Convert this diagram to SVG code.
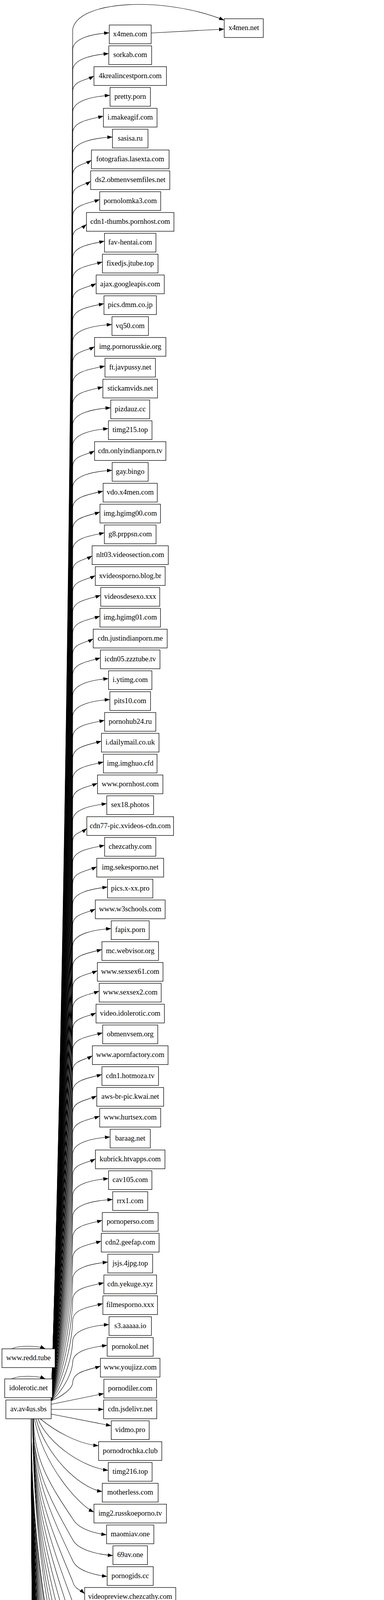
<svg xmlns="http://www.w3.org/2000/svg" width="983" height="7090" viewBox="0 0 983 7090">
<style>
.nd rect{fill:#ffffff;stroke:#000000;stroke-width:1.3}
.nd text{font-family:"Liberation Serif","Times New Roman",serif;font-size:18.67px;text-anchor:middle;fill:#000000}
#edges path{fill:none;stroke:#000000;stroke-width:1.1;marker-end:url(#ah)}
</style>
<defs>
<marker id="ah" markerWidth="13.3" markerHeight="9.4" refX="13.3" refY="4.7" orient="auto" markerUnits="userSpaceOnUse" viewBox="0 0 13.3 9.4"><path d="M0,0 L13.3,4.7 L0,9.4 z" fill="#000000"/></marker>
</defs>
<rect x="0" y="0" width="983" height="7090" fill="#ffffff"/>
<g id="edges">
<path d="M131,3586C160,2708.3 184,1128.3 186,75C200,0 420,-10 574,51.7"/>
<path d="M387,84.5L574,74.5"/>
<path d="M131,3586C160,2721.5 184,1165.4 186,128c0,-30.8 51.6,-41.1 93.7,-44"/>
<path d="M131,3586C160,2734.8 184,1202.7 186,181.3c0,-30.8 51.6,-41.1 92.5,-44"/>
<path d="M131,3586C160,2748.2 184,1240.1 186,234.7c0,-27.9 32.6,-28.2 54.5,-40"/>
<path d="M131,3586C160,2761.5 184,1277.4 186,288c0,-30.8 51.6,-41.1 95.6,-44"/>
<path d="M131,3586C160,2774.8 184,1314.7 186,341.3c0,-30.8 44.1,-35.9 78.7,-44"/>
<path d="M131,3586C160,2788.2 184,1352.1 186,394.7c0,-30.8 55.1,-41.7 101.9,-44"/>
<path d="M131,3586C160,2801.5 184,1389.4 186,448c0,-26.3 29.2,-26 48,-37.8"/>
<path d="M131,3586C160,2814.8 184,1426.7 186,501.3c0,-26.3 29.2,-26 46.1,-37.2"/>
<path d="M131,3586C160,2828.2 184,1464.1 186,554.7c0,-30.8 40.1,-34 69.3,-44"/>
<path d="M131,3586C160,2841.5 184,1501.4 186,608c0,-23.5 23,-23.4 35.4,-33.7"/>
<path d="M131,3586C160,2854.8 184,1538.7 186,661.3c0,-30.8 45.5,-36.7 81.5,-44"/>
<path d="M131,3586C160,2868.2 184,1576.1 186,714.7c0,-30.8 42.5,-35 76.2,-44"/>
<path d="M131,3586C160,2881.5 184,1613.4 186,768c0,-29.5 36,-30.8 60.2,-41.9"/>
<path d="M131,3586C160,2894.8 184,1650.7 186,821.3c0,-30.8 45.5,-36.7 80.2,-44"/>
<path d="M131,3586C160,2908.2 184,1688.1 186,874.7c0,-30.8 55.1,-41.7 100.6,-44"/>
<path d="M131,3586C160,2921.5 184,1725.4 186,928c0,-28.6 34.1,-29.3 56.1,-40.5"/>
<path d="M131,3586C160,2934.8 184,1762.7 186,981.3c0,-30.8 45.5,-36.7 82.7,-44"/>
<path d="M131,3586C160,2948.2 184,1800.1 186,1034.7c0,-30.8 44.1,-35.9 77.4,-44"/>
<path d="M131,3586C160,2961.5 184,1837.4 186,1088c0,-30.8 55.1,-41.7 97.5,-44"/>
<path d="M131,3586C160,2974.8 184,1874.7 186,1141.3c0,-30.8 51.6,-41.1 91.5,-44"/>
<path d="M131,3586C160,2988.2 184,1912.1 186,1194.7c0,-28.6 34.1,-29.3 56.1,-40.5"/>
<path d="M131,3586C160,3001.5 184,1949.4 186,1248c0,-30.8 55.1,-41.7 101.2,-44"/>
<path d="M131,3586C160,3014.8 184,1986.7 186,1301.3c0,-30.8 44.1,-35.9 78,-44"/>
<path d="M131,3586C160,3028.2 184,2024.1 186,1354.7c0,-30.8 40.1,-34 69.9,-44"/>
<path d="M131,3586C160,3041.5 184,2061.4 186,1408c0,-30.8 45.5,-36.7 81.2,-44"/>
<path d="M131,3586C160,3054.8 184,2098.7 186,1461.3c0,-27 30.7,-26.9 49.8,-38.4"/>
<path d="M131,3586C160,3068.2 184,2136.1 186,1514.7c0,-28.6 34.1,-29.3 58,-41.1"/>
<path d="M131,3586C160,3081.5 184,2173.4 186,1568c0,-30.8 40.1,-34 71.8,-44"/>
<path d="M131,3586C160,3094.8 184,2210.7 186,1621.3c0,-30.8 40.1,-34 69.9,-44"/>
<path d="M131,3586C160,3108.2 184,2248.1 186,1674.7c0,-27.9 32.6,-28.2 52.6,-39.4"/>
<path d="M131,3586C160,3121.5 184,2285.4 186,1728c0,-30.8 40.1,-34 71.1,-44"/>
<path d="M131,3586C160,3134.8 184,2322.7 186,1781.3c0,-30.8 51.6,-41.1 91.8,-44"/>
<path d="M131,3586C160,3148.2 184,2360.1 186,1834.7c0,-30.8 51.6,-41.1 95.3,-44"/>
<path d="M131,3586C160,3161.5 184,2397.4 186,1888c0,-30.8 45.5,-36.7 81.8,-44"/>
<path d="M131,3586C160,3174.8 184,2434.7 186,1941.3c0,-30.8 42.5,-35 73.7,-44"/>
<path d="M131,3586C160,3188.2 184,2472.1 186,1994.7c0,-30.8 44.1,-35.9 78.7,-44"/>
<path d="M131,3586C160,3201.5 184,2509.4 186,2048c0,-30.1 37.1,-32 63.6,-43"/>
<path d="M131,3586C160,3214.8 184,2546.7 186,2101.3c0,-30.8 49.3,-39.3 87.4,-44"/>
<path d="M131,3586C160,3228.2 184,2584.1 186,2154.7c0,-23.5 23,-23.4 36.3,-34"/>
<path d="M131,3586C160,3241.5 184,2621.4 186,2208c0,-30.8 45.5,-36.7 81.8,-44"/>
<path d="M131,3586C160,3254.8 184,2658.7 186,2261.3c0,-29.5 36,-30.8 61.7,-42.4"/>
<path d="M131,3586C160,3268.2 184,2696.1 186,2314.7c0,-30.8 49.3,-39.3 89.3,-44"/>
<path d="M131,3586C160,3281.5 184,2733.4 186,2368c0,-28.6 34.1,-29.3 58,-41.1"/>
<path d="M131,3586C160,3294.8 184,2770.7 186,2421.3c0,-30.8 55.1,-41.7 98.7,-44"/>
<path d="M131,3586C160,3308.2 184,2808.1 186,2474.7c0,-30.8 42.5,-35 74.9,-44"/>
<path d="M131,3586C160,3321.5 184,2845.4 186,2528c0,-30.1 37.1,-32 63.3,-42.9"/>
<path d="M131,3586C160,3334.8 184,2882.7 186,2581.3c0,-30.8 40.1,-34 68,-44"/>
<path d="M131,3586C160,3348.2 184,2920.1 186,2634.7c0,-29.5 36,-30.8 59.8,-41.7"/>
<path d="M131,3586C160,3361.5 184,2957.4 186,2688c0,-30.8 42.5,-35 76.8,-44"/>
<path d="M131,3586C160,3374.8 184,2994.7 186,2741.3c0,-27 30.7,-26.9 50.5,-38.7"/>
<path d="M131,3586C160,3388.2 184,3032.1 186,2794.7c0,-30.8 42.5,-35 74.9,-44"/>
<path d="M131,3586C160,3401.5 184,3069.4 186,2848c0,-29.5 36,-30.8 61.7,-42.4"/>
<path d="M131,3586C160,3414.8 184,3106.7 186,2901.3c0,-30.8 40.1,-34 69.3,-44"/>
<path d="M131,3586C160,3428.2 184,3144.1 186,2954.7c0,-30.8 51.6,-41.1 95.9,-44"/>
<path d="M131,3586C160,3441.5 184,3181.4 186,3008c0,-28.6 34.1,-29.3 58.3,-41.2"/>
<path d="M131,3586C160,3454.8 184,3218.7 186,3061.3c0,-30.8 51.6,-41.1 91.8,-44"/>
<path d="M131,3586C160,3468.2 184,3256.1 186,3114.7c0,-30.8 55.1,-41.7 102.5,-44"/>
<path d="M131,3586C160,3481.5 184,3293.4 186,3168c0,-30.8 42.5,-35 75.8,-44"/>
<path d="M131,3586C160,3494.8 184,3330.7 186,3221.3c0,-30.8 42.5,-35 73.3,-44"/>
<path d="M131,3586C160,3508.2 184,3368.1 186,3274.7c0,-30.8 49.3,-39.3 90,-44"/>
<path d="M131,3586C160,3521.5 184,3405.4 186,3328c0,-30.8 44.1,-35.9 79.9,-44"/>
<path d="M131,3586C160,3534.8 184,3442.7 186,3381.3c0,-30.8 44.1,-35.9 77.4,-44"/>
<path d="M131,3586C160,3548.2 184,3480.1 186,3434.7c0,-30.8 51.6,-41.1 93.1,-44"/>
<path d="M131,3586C160,3561.5 184,3517.4 186,3488c0,-30.8 49.3,-39.3 88.4,-44"/>
<path d="M131,3586C160,3574.8 184,3554.7 186,3541.3c0,-30.8 40.1,-34 71.1,-44"/>
<path d="M131,3595L265.9,3567.5"/>
<path d="M131,3608L265.3,3608"/>
<path d="M131,3620L284.7,3650"/>
<path d="M103,3632C140,3663 200,3697 252.4,3701"/>
<path d="M97,3632C124,3698 214,3757 277.2,3764"/>
<path d="M92,3632C117.5,3725 202.3,3809.2 261.8,3818.5"/>
<path d="M88,3632C111,3751.5 200,3852 240.5,3871"/>
<path d="M86,3632C86,3734.4 126,3798.4 186,3888c14,24.6 49.7,36.7 86.8,41"/>
<path d="M84,3632C84,3755.7 124.8,3833 186,3941.3c12,24.6 55.5,37.1 103.1,41"/>
<path d="M85,3632C85,3777.1 125.4,3867.8 186,3994.7c10,24.6 49.7,36.7 88.4,41"/>
<path d="M84,3632C84,3798.4 124.8,3902.4 186,4048c4,19.1 20.4,22.6 30.7,31.8"/>
<path d="M84,3632C84,3819.7 124.8,3937.1 186,4101.3c4,24.6 44.1,33.1 77.4,41"/>
<path d="M84,3632C84,3841.1 124.8,3971.7 186,4154.7c4,24.6 49.7,36.7 87.4,41"/>
<path d="M84,3632C84,3862.4 124.8,4006.4 186,4208c4,24.6 55.5,37.1 100.6,41"/>
<path d="M84,3632C84,3883.7 124.8,4041.1 186,4261.3c4,24.6 41.7,31.9 73.3,41"/>
<path d="M84,3632C84,3905.1 124.8,4075.7 186,4314.7c4,18.4 18.9,22 28.2,30.7"/>
<path d="M84,3632C84,3926.4 124.8,4110.4 186,4368c4,24.6 46.2,34.4 81.2,41"/>
<path d="M84,3632C84,3947.7 124.8,4145.1 186,4421.3c4,24.6 44.1,33.1 78.4,41"/>
<path d="M80,3632C80,3965.2 122.4,4173.5 186,4465C187,4488 205,4499 260,4501C360,4503 480,4499 566,4497"/>
<path d="M80,3632C80,3974.4 122.4,4188.4 186,4488c4,24.6 49.7,36.7 90,41"/>
<path d="M80,3632C80,3995.7 122.4,4223.1 186,4541.3c4,24.6 49.7,36.7 91.2,41"/>
<path d="M80,3632C80,4017.1 122.4,4257.7 186,4594.7c4,24.6 31,29.7 52,41"/>
<path d="M80,3632C80,4038.4 122.4,4292.4 186,4648c4,24.6 33.9,29.8 58.3,41"/>
<path d="M80,3632C80,4059.7 122.4,4327.1 186,4701.3c4,24.6 46.2,34.4 85.6,41"/>
<path d="M80,3632C80,4081.1 122.4,4361.7 186,4754.7c4,24.6 49.7,36.7 90.6,41"/>
<path d="M80,3632C80,4102.4 122.4,4396.4 186,4808c4,24.6 38.4,30.7 67.4,41"/>
<path d="M80,3632C80,4123.7 122.4,4431.1 186,4861.3c4,24.6 33.9,29.8 58.3,41"/>
<path d="M80,3632C80,4145.1 122.4,4465.7 186,4914.7c4,19.6 21.4,23.2 32.6,32.7"/>
<path d="M80,3632C80,4166.4 122.4,4500.4 186,4968c1,11.7 2.5,18.2 3.4,19.5"/>
<path d="M80,3632C80,4187.7 122.4,4535.1 186,5021.3c4,24.6 38.4,30.7 66.1,41"/>
<path d="M80,3632C80,4209.1 122.4,4569.7 186,5074.7c4,24.6 40.3,31.4 69.9,41"/>
<path d="M80,3632C80,4230.4 122.4,4604.4 186,5128c4,22.1 26.3,26 41.7,36.8"/>
<path d="M80,3632C80,4251.7 122.4,4639.1 186,5181.3c4,24.6 44.1,33.1 78.7,41"/>
<path d="M80,3632C80,4273.1 122.4,4673.7 186,5234.7c4,24.6 44.1,33.1 77.4,41"/>
<path d="M80,3632C80,4294.4 122.4,4708.4 186,5288c4,24.6 33.9,29.8 56.1,41"/>
<path d="M80,3632C80,4315.7 122.4,4743.1 186,5341.3c4,24.6 52.2,37.3 93.1,41"/>
<path d="M80,3632C80,4337.1 122.4,4777.7 186,5394.7c4,24.6 52.2,37.3 95.3,41"/>
<path d="M80,3632C80,4358.4 122.4,4812.4 186,5448c4,24.6 36.5,30.2 61.7,41"/>
<path d="M80,3632C80,4379.7 122.4,4847.1 186,5501.3c4,24.6 46.2,34.4 80.5,41"/>
<path d="M80,3632C80,4401.1 122.4,4881.7 186,5554.7c4,24.6 36.5,30.2 63.6,41"/>
<path d="M80,3632C80,4422.4 122.4,4916.4 186,5608c4,24.6 31,29.7 51.7,41"/>
<path d="M80,3632C80,4443.7 122.4,4951.1 186,5661.3c4,24.6 38.4,30.7 66.8,41"/>
<path d="M80,3632C80,4465.1 122.4,4985.7 186,5714.7c4,24.6 41.7,31.9 73.7,41"/>
<path d="M80,3632C80,4486.4 122.4,5020.4 186,5768c4,24.6 55.5,37.1 103.1,41"/>
<path d="M80,3632C80,4507.7 122.4,5055.1 186,5821.3c4,24.6 52.2,37.3 95.6,41"/>
<path d="M80,3632C80,4529.1 122.4,5089.7 186,5874.7c4,24.6 55.5,37.1 97.8,41"/>
<path d="M80,3632C80,4550.4 122.4,5124.4 186,5928c4,24.6 40.3,31.4 71.8,41"/>
<path d="M80,3632C80,4571.7 122.4,5159.1 186,5981.3c4,24.6 40.3,31.4 69.3,41"/>
<path d="M80,3632C80,4593.1 122.4,5193.7 186,6034.7c4,24.6 36.5,30.2 63.3,41"/>
<path d="M80,3632C80,4614.4 122.4,5228.4 186,6088c4,24.6 40.3,31.4 70.5,41"/>
<path d="M80,3632C80,4629.2 122.4,5252.5 186,6125C187,6148 210,6162 280,6164C380,6167 450,6165 476.5,6152C600,6060 850,5650 868,5352"/>
<path d="M80,3632C80,4641.1 122.4,5271.8 186,6154.7c4,24.6 52.2,37.3 93.1,41"/>
<path d="M80,3632C80,4655.2 122.4,5294.7 186,6190C187,6213 210,6226 280,6229C420,6233 520,6238 574,6273"/>
<path d="M80,3632C80,4667.7 122.4,5315 186,6221.3c4,24.6 44.1,33.1 79.3,41"/>
<path d="M80,3632C80,4689.1 122.4,5349.7 186,6274.7c4,24.6 46.2,34.4 84.9,41"/>
<path d="M80,3632C80,4710.4 122.4,5384.4 186,6328c4,24.6 41.7,31.9 73.7,41"/>
<path d="M80,3632C80,4731.7 122.4,5419.1 186,6381.3c4,24.6 40.3,31.4 71.1,41"/>
<path d="M80,3632C80,4753.1 122.4,5453.7 186,6434.7c4,24.6 38.4,30.7 65.8,41"/>
<path d="M80,3632C80,4774.4 122.4,5488.4 186,6488c4,24.6 36.5,30.2 61.4,41"/>
<path d="M80,3632C80,4795.7 122.4,5523.1 186,6541.3c4,24.6 46.2,34.4 83.1,41"/>
<path d="M80,3632C80,4817.1 122.4,5557.7 186,6594.7c4,24.6 46.2,34.4 81.2,41"/>
<path d="M80,3632C80,4838.4 122.4,5592.4 186,6648c4,24.6 44.1,33.1 79.9,41"/>
<path d="M80,3632C80,4859.7 122.4,5627.1 186,6701.3c4,24.6 46.2,34.4 83.7,41"/>
<path d="M80,3632C80,4881.1 122.4,5661.7 186,6754.7c4,24.6 49.7,36.7 90,41"/>
<path d="M80,3632C80,4902.4 122.4,5696.4 186,6808c4,24.6 55.5,37.1 100.6,41"/>
<path d="M80,3632C80,4923.7 122.4,5731.1 186,6861.3c4,24.6 31,29.7 49.8,40.4"/>
<path d="M80,3632C80,4945.1 122.4,5765.7 186,6914.7c4,24.6 52.2,37.3 95.3,41"/>
<path d="M80,3632C80,4966.4 122.4,5800.4 186,6968c4,24.6 40.3,31.4 69.9,41"/>
<path d="M80,3632C80,4987.7 122.4,5835.1 186,7021.3c4,24.6 46.2,34.4 84.9,41"/>
<path d="M380,4248C480,4255 580,4350 611,4470"/>
<path d="M632,4518L865,5304"/>
<path d="M407,6353C440,6346 500,6333 546,6321"/>
<path d="M419.2,6528L525,6528"/>
<path d="M722,6528L770,6528"/>
<path d="M30,3453C48,3444 95,3444 116,3453"/>
<path d="M30,3530C48,3521 95,3521 116,3530"/>
</g>
<g id="nodes">
<g id="n_www.redd.tube" class="nd"><rect x="5" y="3453" width="136" height="48"/><text x="73" y="3482">www.redd.tube</text></g>
<g id="n_idolerotic.net" class="nd"><rect x="12" y="3530" width="122" height="48"/><text x="73" y="3559">idolerotic.net</text></g>
<g id="n_av.av4us.sbs" class="nd"><rect x="15" y="3584" width="116" height="48"/><text x="73" y="3613">av.av4us.sbs</text></g>
<g id="n_x4men.net" class="nd"><rect x="574" y="48" width="100" height="48"/><text x="624" y="77">x4men.net</text></g>
<g id="n_ru.uzbum.su" class="nd"><rect x="566" y="4470" width="115.5" height="48"/><text x="623.8" y="4499">ru.uzbum.su</text></g>
<g id="n_uzbum.cc" class="nd"><rect x="827.5" y="5304" width="92.5" height="48"/><text x="873.8" y="5333">uzbum.cc</text></g>
<g id="n_pornolomka2.com" class="nd"><rect x="546" y="6273" width="155.5" height="48"/><text x="623.8" y="6302">pornolomka2.com</text></g>
<g id="n_ds.nashobmenfiles.com" class="nd"><rect x="525" y="6504" width="197" height="48"/><text x="623.5" y="6533">ds.nashobmenfiles.com</text></g>
<g id="n_ds2.nashobmenfiles.com" class="nd"><rect x="770" y="6504" width="207" height="48"/><text x="873.5" y="6533">ds2.nashobmenfiles.com</text></g>
<g id="n_x4men.com" class="nd"><rect x="279.7" y="64" width="107.3" height="48"/><text x="333.3" y="93">x4men.com</text></g>
<g id="n_sorkab.com" class="nd"><rect x="278.5" y="117.3" width="109.7" height="48"/><text x="333.3" y="146.3">sorkab.com</text></g>
<g id="n_4krealincestporn.com" class="nd"><rect x="240.5" y="170.7" width="185.6" height="48"/><text x="333.3" y="199.7">4krealincestporn.com</text></g>
<g id="n_pretty.porn" class="nd"><rect x="281.6" y="224" width="103.5" height="48"/><text x="333.3" y="253">pretty.porn</text></g>
<g id="n_i.makeagif.com" class="nd"><rect x="264.7" y="277.3" width="137.3" height="48"/><text x="333.3" y="306.3">i.makeagif.com</text></g>
<g id="n_sasisa.ru" class="nd"><rect x="287.9" y="330.7" width="90.9" height="48"/><text x="333.3" y="359.7">sasisa.ru</text></g>
<g id="n_fotografias.lasexta.com" class="nd"><rect x="234" y="384" width="198.7" height="48"/><text x="333.3" y="413">fotografias.lasexta.com</text></g>
<g id="n_ds2.obmenvsemfiles.net" class="nd"><rect x="232.1" y="437.3" width="202.5" height="48"/><text x="333.3" y="466.3">ds2.obmenvsemfiles.net</text></g>
<g id="n_pornolomka3.com" class="nd"><rect x="255.3" y="490.7" width="156.1" height="48"/><text x="333.3" y="519.7">pornolomka3.com</text></g>
<g id="n_cdn1-thumbs.pornhost.com" class="nd"><rect x="221.4" y="544" width="223.9" height="48"/><text x="333.3" y="573">cdn1-thumbs.pornhost.com</text></g>
<g id="n_fav-hentai.com" class="nd"><rect x="267.5" y="597.3" width="131.7" height="48"/><text x="333.3" y="626.3">fav-hentai.com</text></g>
<g id="n_fixedjs.jtube.top" class="nd"><rect x="262.2" y="650.7" width="142.3" height="48"/><text x="333.3" y="679.7">fixedjs.jtube.top</text></g>
<g id="n_ajax.googleapis.com" class="nd"><rect x="246.2" y="704" width="174.3" height="48"/><text x="333.3" y="733">ajax.googleapis.com</text></g>
<g id="n_pics.dmm.co.jp" class="nd"><rect x="266.2" y="757.3" width="134.2" height="48"/><text x="333.3" y="786.3">pics.dmm.co.jp</text></g>
<g id="n_vq50.com" class="nd"><rect x="286.6" y="810.7" width="93.4" height="48"/><text x="333.3" y="839.7">vq50.com</text></g>
<g id="n_img.pornorusskie.org" class="nd"><rect x="242.1" y="864" width="182.5" height="48"/><text x="333.3" y="893">img.pornorusskie.org</text></g>
<g id="n_ft.javpussy.net" class="nd"><rect x="268.7" y="917.3" width="129.2" height="48"/><text x="333.3" y="946.3">ft.javpussy.net</text></g>
<g id="n_stickamvids.net" class="nd"><rect x="263.4" y="970.7" width="139.8" height="48"/><text x="333.3" y="999.7">stickamvids.net</text></g>
<g id="n_pizdauz.cc" class="nd"><rect x="283.5" y="1024" width="99.7" height="48"/><text x="333.3" y="1053">pizdauz.cc</text></g>
<g id="n_timg215.top" class="nd"><rect x="277.5" y="1077.3" width="111.6" height="48"/><text x="333.3" y="1106.3">timg215.top</text></g>
<g id="n_cdn.onlyindianporn.tv" class="nd"><rect x="242.1" y="1130.7" width="182.5" height="48"/><text x="333.3" y="1159.7">cdn.onlyindianporn.tv</text></g>
<g id="n_gay.bingo" class="nd"><rect x="287.2" y="1184" width="92.2" height="48"/><text x="333.3" y="1213">gay.bingo</text></g>
<g id="n_vdo.x4men.com" class="nd"><rect x="264" y="1237.3" width="138.6" height="48"/><text x="333.3" y="1266.3">vdo.x4men.com</text></g>
<g id="n_img.hgimg00.com" class="nd"><rect x="255.9" y="1290.7" width="154.9" height="48"/><text x="333.3" y="1319.7">img.hgimg00.com</text></g>
<g id="n_g8.prppsn.com" class="nd"><rect x="267.2" y="1344" width="132.3" height="48"/><text x="333.3" y="1373">g8.prppsn.com</text></g>
<g id="n_nlt03.videosection.com" class="nd"><rect x="235.8" y="1397.3" width="195" height="48"/><text x="333.3" y="1426.3">nlt03.videosection.com</text></g>
<g id="n_xvideosporno.blog.br" class="nd"><rect x="244" y="1450.7" width="178.7" height="48"/><text x="333.3" y="1479.7">xvideosporno.blog.br</text></g>
<g id="n_videosdesexo.xxx" class="nd"><rect x="257.8" y="1504" width="151.1" height="48"/><text x="333.3" y="1533">videosdesexo.xxx</text></g>
<g id="n_img.hgimg01.com" class="nd"><rect x="255.9" y="1557.3" width="154.9" height="48"/><text x="333.3" y="1586.3">img.hgimg01.com</text></g>
<g id="n_cdn.justindianporn.me" class="nd"><rect x="238.6" y="1610.7" width="189.4" height="48"/><text x="333.3" y="1639.7">cdn.justindianporn.me</text></g>
<g id="n_icdn05.zzztube.tv" class="nd"><rect x="257.1" y="1664" width="152.4" height="48"/><text x="333.3" y="1693">icdn05.zzztube.tv</text></g>
<g id="n_i.ytimg.com" class="nd"><rect x="277.8" y="1717.3" width="111" height="48"/><text x="333.3" y="1746.3">i.ytimg.com</text></g>
<g id="n_pits10.com" class="nd"><rect x="281.3" y="1770.7" width="104.1" height="48"/><text x="333.3" y="1799.7">pits10.com</text></g>
<g id="n_pornohub24.ru" class="nd"><rect x="267.8" y="1824" width="131" height="48"/><text x="333.3" y="1853">pornohub24.ru</text></g>
<g id="n_i.dailymail.co.uk" class="nd"><rect x="259.7" y="1877.3" width="147.3" height="48"/><text x="333.3" y="1906.3">i.dailymail.co.uk</text></g>
<g id="n_img.imghuo.cfd" class="nd"><rect x="264.7" y="1930.7" width="137.3" height="48"/><text x="333.3" y="1959.7">img.imghuo.cfd</text></g>
<g id="n_www.pornhost.com" class="nd"><rect x="249.6" y="1984" width="167.4" height="48"/><text x="333.3" y="2013">www.pornhost.com</text></g>
<g id="n_sex18.photos" class="nd"><rect x="273.4" y="2037.3" width="119.8" height="48"/><text x="333.3" y="2066.3">sex18.photos</text></g>
<g id="n_cdn77-pic.xvideos-cdn.com" class="nd"><rect x="222.3" y="2090.7" width="222" height="48"/><text x="333.3" y="2119.7">cdn77-pic.xvideos-cdn.com</text></g>
<g id="n_chezcathy.com" class="nd"><rect x="267.8" y="2144" width="131" height="48"/><text x="333.3" y="2173">chezcathy.com</text></g>
<g id="n_img.sekesporno.net" class="nd"><rect x="247.7" y="2197.3" width="171.2" height="48"/><text x="333.3" y="2226.3">img.sekesporno.net</text></g>
<g id="n_pics.x-xx.pro" class="nd"><rect x="275.3" y="2250.7" width="116" height="48"/><text x="333.3" y="2279.7">pics.x-xx.pro</text></g>
<g id="n_www.w3schools.com" class="nd"><rect x="244" y="2304" width="178.7" height="48"/><text x="333.3" y="2333">www.w3schools.com</text></g>
<g id="n_fapix.porn" class="nd"><rect x="284.7" y="2357.3" width="97.2" height="48"/><text x="333.3" y="2386.3">fapix.porn</text></g>
<g id="n_mc.webvisor.org" class="nd"><rect x="260.9" y="2410.7" width="144.8" height="48"/><text x="333.3" y="2439.7">mc.webvisor.org</text></g>
<g id="n_www.sexsex61.com" class="nd"><rect x="249.3" y="2464" width="168" height="48"/><text x="333.3" y="2493">www.sexsex61.com</text></g>
<g id="n_www.sexsex2.com" class="nd"><rect x="254" y="2517.3" width="158.6" height="48"/><text x="333.3" y="2546.3">www.sexsex2.com</text></g>
<g id="n_video.idolerotic.com" class="nd"><rect x="245.8" y="2570.7" width="175" height="48"/><text x="333.3" y="2599.7">video.idolerotic.com</text></g>
<g id="n_obmenvsem.org" class="nd"><rect x="262.8" y="2624" width="141" height="48"/><text x="333.3" y="2653">obmenvsem.org</text></g>
<g id="n_www.apornfactory.com" class="nd"><rect x="236.5" y="2677.3" width="193.7" height="48"/><text x="333.3" y="2706.3">www.apornfactory.com</text></g>
<g id="n_cdn1.hotmoza.tv" class="nd"><rect x="260.9" y="2730.7" width="144.8" height="48"/><text x="333.3" y="2759.7">cdn1.hotmoza.tv</text></g>
<g id="n_aws-br-pic.kwai.net" class="nd"><rect x="247.7" y="2784" width="171.2" height="48"/><text x="333.3" y="2813">aws-br-pic.kwai.net</text></g>
<g id="n_www.hurtsex.com" class="nd"><rect x="255.3" y="2837.3" width="156.1" height="48"/><text x="333.3" y="2866.3">www.hurtsex.com</text></g>
<g id="n_baraag.net" class="nd"><rect x="281.9" y="2890.7" width="102.8" height="48"/><text x="333.3" y="2919.7">baraag.net</text></g>
<g id="n_kubrick.htvapps.com" class="nd"><rect x="244.3" y="2944" width="178" height="48"/><text x="333.3" y="2973">kubrick.htvapps.com</text></g>
<g id="n_cav105.com" class="nd"><rect x="277.8" y="2997.3" width="111" height="48"/><text x="333.3" y="3026.3">cav105.com</text></g>
<g id="n_rrx1.com" class="nd"><rect x="288.5" y="3050.7" width="89.7" height="48"/><text x="333.3" y="3079.7">rrx1.com</text></g>
<g id="n_pornoperso.com" class="nd"><rect x="261.8" y="3104" width="143" height="48"/><text x="333.3" y="3133">pornoperso.com</text></g>
<g id="n_cdn2.geefap.com" class="nd"><rect x="259.3" y="3157.3" width="148" height="48"/><text x="333.3" y="3186.3">cdn2.geefap.com</text></g>
<g id="n_jsjs.4jpg.top" class="nd"><rect x="276" y="3210.7" width="114.7" height="48"/><text x="333.3" y="3239.7">jsjs.4jpg.top</text></g>
<g id="n_cdn.yekuge.xyz" class="nd"><rect x="265.9" y="3264" width="134.8" height="48"/><text x="333.3" y="3293">cdn.yekuge.xyz</text></g>
<g id="n_filmesporno.xxx" class="nd"><rect x="263.4" y="3317.3" width="139.8" height="48"/><text x="333.3" y="3346.3">filmesporno.xxx</text></g>
<g id="n_s3.aaaaa.io" class="nd"><rect x="279.1" y="3370.7" width="108.5" height="48"/><text x="333.3" y="3399.7">s3.aaaaa.io</text></g>
<g id="n_pornokol.net" class="nd"><rect x="274.4" y="3424" width="117.9" height="48"/><text x="333.3" y="3453">pornokol.net</text></g>
<g id="n_www.youjizz.com" class="nd"><rect x="257.1" y="3477.3" width="152.4" height="48"/><text x="333.3" y="3506.3">www.youjizz.com</text></g>
<g id="n_pornodiler.com" class="nd"><rect x="265.9" y="3530.7" width="134.8" height="48"/><text x="333.3" y="3559.7">pornodiler.com</text></g>
<g id="n_cdn.jsdelivr.net" class="nd"><rect x="265.3" y="3584" width="136" height="48"/><text x="333.3" y="3613">cdn.jsdelivr.net</text></g>
<g id="n_vidmo.pro" class="nd"><rect x="284.7" y="3637.3" width="97.2" height="48"/><text x="333.3" y="3666.3">vidmo.pro</text></g>
<g id="n_pornodrochka.club" class="nd"><rect x="252.4" y="3690.7" width="161.8" height="48"/><text x="333.3" y="3719.7">pornodrochka.club</text></g>
<g id="n_timg216.top" class="nd"><rect x="277.2" y="3744" width="112.2" height="48"/><text x="333.3" y="3773">timg216.top</text></g>
<g id="n_motherless.com" class="nd"><rect x="261.8" y="3797.3" width="143" height="48"/><text x="333.3" y="3826.3">motherless.com</text></g>
<g id="n_img2.russkoeporno.tv" class="nd"><rect x="240.5" y="3850.7" width="185.6" height="48"/><text x="333.3" y="3879.7">img2.russkoeporno.tv</text></g>
<g id="n_maomiav.one" class="nd"><rect x="272.8" y="3904" width="121" height="48"/><text x="333.3" y="3933">maomiav.one</text></g>
<g id="n_69av.one" class="nd"><rect x="289.1" y="3957.3" width="88.4" height="48"/><text x="333.3" y="3986.3">69av.one</text></g>
<g id="n_pornogids.cc" class="nd"><rect x="274.4" y="4010.7" width="117.9" height="48"/><text x="333.3" y="4039.7">pornogids.cc</text></g>
<g id="n_videopreview.chezcathy.com" class="nd"><rect x="216.7" y="4064" width="233.2" height="48"/><text x="333.3" y="4093">videopreview.chezcathy.com</text></g>
<g id="n_static.bad.news" class="nd"><rect x="263.4" y="4117.3" width="139.8" height="48"/><text x="333.3" y="4146.3">static.bad.news</text></g>
<g id="n_en.vidmo.pro" class="nd"><rect x="273.4" y="4170.7" width="119.8" height="48"/><text x="333.3" y="4199.7">en.vidmo.pro</text></g>
<g id="n_uzbum.su" class="nd"><rect x="286.6" y="4224" width="93.4" height="48"/><text x="333.3" y="4253">uzbum.su</text></g>
<g id="n_piganimalsex.icu" class="nd"><rect x="259.3" y="4277.3" width="148" height="48"/><text x="333.3" y="4306.3">piganimalsex.icu</text></g>
<g id="n_www.googletagmanager.com" class="nd"><rect x="214.2" y="4330.7" width="238.3" height="48"/><text x="333.3" y="4359.7">www.googletagmanager.com</text></g>
<g id="n_naturismv.com" class="nd"><rect x="267.2" y="4384" width="132.3" height="48"/><text x="333.3" y="4413">naturismv.com</text></g>
<g id="n_cdn.redwap.xyz" class="nd"><rect x="264.4" y="4437.3" width="137.9" height="48"/><text x="333.3" y="4466.3">cdn.redwap.xyz</text></g>
<g id="n_desiporn.me" class="nd"><rect x="276" y="4504" width="114.7" height="48"/><text x="333.3" y="4533">desiporn.me</text></g>
<g id="n_css.4jpg.top" class="nd"><rect x="277.2" y="4557.3" width="112.2" height="48"/><text x="333.3" y="4586.3">css.4jpg.top</text></g>
<g id="n_assets-cdn-s.coub.com" class="nd"><rect x="238" y="4610.7" width="190.6" height="48"/><text x="333.3" y="4639.7">assets-cdn-s.coub.com</text></g>
<g id="n_cdnjs.cloudflare.com" class="nd"><rect x="244.3" y="4664" width="178" height="48"/><text x="333.3" y="4693">cdnjs.cloudflare.com</text></g>
<g id="n_treeyork.com" class="nd"><rect x="271.6" y="4717.3" width="123.5" height="48"/><text x="333.3" y="4746.3">treeyork.com</text></g>
<g id="n_area51.porn" class="nd"><rect x="276.6" y="4770.7" width="113.5" height="48"/><text x="333.3" y="4799.7">area51.porn</text></g>
<g id="n_blumpkintube.com" class="nd"><rect x="253.4" y="4824" width="159.9" height="48"/><text x="333.3" y="4853">blumpkintube.com</text></g>
<g id="n_media.crazyshit.com" class="nd"><rect x="244.3" y="4877.3" width="178" height="48"/><text x="333.3" y="4906.3">media.crazyshit.com</text></g>
<g id="n_images.embed-player.space" class="nd"><rect x="218.6" y="4930.7" width="229.5" height="48"/><text x="333.3" y="4959.7">images.embed-player.space</text></g>
<g id="n_cdn5-thumbs.motherlessmedia.com" class="nd"><rect x="189.4" y="4984" width="287.8" height="48"/><text x="333.3" y="5013">cdn5-thumbs.motherlessmedia.com</text></g>
<g id="n_www.9188porn.xyz" class="nd"><rect x="252.1" y="5037.3" width="162.4" height="48"/><text x="333.3" y="5066.3">www.9188porn.xyz</text></g>
<g id="n_cdntube.b-cdn.net" class="nd"><rect x="255.9" y="5090.7" width="154.9" height="48"/><text x="333.3" y="5119.7">cdntube.b-cdn.net</text></g>
<g id="n_imagecdn.clips4sale.com" class="nd"><rect x="227.7" y="5144" width="211.3" height="48"/><text x="333.3" y="5173">imagecdn.clips4sale.com</text></g>
<g id="n_muy-porno.com" class="nd"><rect x="264.7" y="5197.3" width="137.3" height="48"/><text x="333.3" y="5226.3">muy-porno.com</text></g>
<g id="n_jpgjingpinx.com" class="nd"><rect x="263.4" y="5250.7" width="139.8" height="48"/><text x="333.3" y="5279.7">jpgjingpinx.com</text></g>
<g id="n_twitter.yandex.com.tr" class="nd"><rect x="242.1" y="5304" width="182.5" height="48"/><text x="333.3" y="5333">twitter.yandex.com.tr</text></g>
<g id="n_ytboob.com" class="nd"><rect x="279.1" y="5357.3" width="108.5" height="48"/><text x="333.3" y="5386.3">ytboob.com</text></g>
<g id="n_pic.duga.jp" class="nd"><rect x="281.3" y="5410.7" width="104.1" height="48"/><text x="333.3" y="5439.7">pic.duga.jp</text></g>
<g id="n_www.9188porn.com" class="nd"><rect x="247.7" y="5464" width="171.2" height="48"/><text x="333.3" y="5493">www.9188porn.com</text></g>
<g id="n_rule34porn.net" class="nd"><rect x="266.5" y="5517.3" width="133.6" height="48"/><text x="333.3" y="5546.3">rule34porn.net</text></g>
<g id="n_thumb.aporntv.com" class="nd"><rect x="249.6" y="5570.7" width="167.4" height="48"/><text x="333.3" y="5599.7">thumb.aporntv.com</text></g>
<g id="n_st3.depositphotos.com" class="nd"><rect x="237.7" y="5624" width="191.2" height="48"/><text x="333.3" y="5653">st3.depositphotos.com</text></g>
<g id="n_www.45avdvd.com" class="nd"><rect x="252.8" y="5677.3" width="161.1" height="48"/><text x="333.3" y="5706.3">www.45avdvd.com</text></g>
<g id="n_www.clporn.com" class="nd"><rect x="259.7" y="5730.7" width="147.3" height="48"/><text x="333.3" y="5759.7">www.clporn.com</text></g>
<g id="n_xzx.mobi" class="nd"><rect x="289.1" y="5784" width="88.4" height="48"/><text x="333.3" y="5813">xzx.mobi</text></g>
<g id="n_oedy9.com" class="nd"><rect x="281.6" y="5837.3" width="103.5" height="48"/><text x="333.3" y="5866.3">oedy9.com</text></g>
<g id="n_i0.wp.com" class="nd"><rect x="283.8" y="5890.7" width="99" height="48"/><text x="333.3" y="5919.7">i0.wp.com</text></g>
<g id="n_img.youtube.com" class="nd"><rect x="257.8" y="5944" width="151.1" height="48"/><text x="333.3" y="5973">img.youtube.com</text></g>
<g id="n_www.xvideos.com" class="nd"><rect x="255.3" y="5997.3" width="156.1" height="48"/><text x="333.3" y="6026.3">www.xvideos.com</text></g>
<g id="n_rule34xyz.b-cdn.net" class="nd"><rect x="249.3" y="6050.7" width="168" height="48"/><text x="333.3" y="6079.7">rule34xyz.b-cdn.net</text></g>
<g id="n_en.chezcathy.com" class="nd"><rect x="256.5" y="6104" width="153.6" height="48"/><text x="333.3" y="6133">en.chezcathy.com</text></g>
<g id="n_pornyc.com" class="nd"><rect x="279.1" y="6170.7" width="108.5" height="48"/><text x="333.3" y="6199.7">pornyc.com</text></g>
<g id="n_www.kwai.com" class="nd"><rect x="265.3" y="6237.3" width="136" height="48"/><text x="333.3" y="6266.3">www.kwai.com</text></g>
<g id="n_uqetyzxa.com" class="nd"><rect x="270.9" y="6290.7" width="124.8" height="48"/><text x="333.3" y="6319.7">uqetyzxa.com</text></g>
<g id="n_pornolomka.com" class="nd"><rect x="259.7" y="6344" width="147.3" height="48"/><text x="333.3" y="6373">pornolomka.com</text></g>
<g id="n_videosection.com" class="nd"><rect x="257.1" y="6397.3" width="152.4" height="48"/><text x="333.3" y="6426.3">videosection.com</text></g>
<g id="n_ph.pornfactory.info" class="nd"><rect x="251.8" y="6450.7" width="163" height="48"/><text x="333.3" y="6479.7">ph.pornfactory.info</text></g>
<g id="n_obmenvsemfiles.net" class="nd"><rect x="247.4" y="6504" width="171.8" height="48"/><text x="333.3" y="6533">obmenvsemfiles.net</text></g>
<g id="n_cacrz.4jpg.top" class="nd"><rect x="269.1" y="6557.3" width="128.5" height="48"/><text x="333.3" y="6586.3">cacrz.4jpg.top</text></g>
<g id="n_page.phic4.top" class="nd"><rect x="267.2" y="6610.7" width="132.3" height="48"/><text x="333.3" y="6639.7">page.phic4.top</text></g>
<g id="n_nlt03.gay.bingo" class="nd"><rect x="265.9" y="6664" width="134.8" height="48"/><text x="333.3" y="6693">nlt03.gay.bingo</text></g>
<g id="n_incestvids.org" class="nd"><rect x="269.7" y="6717.3" width="127.3" height="48"/><text x="333.3" y="6746.3">incestvids.org</text></g>
<g id="n_rtgallery.net" class="nd"><rect x="276" y="6770.7" width="114.7" height="48"/><text x="333.3" y="6799.7">rtgallery.net</text></g>
<g id="n_coub.com" class="nd"><rect x="286.6" y="6824" width="93.4" height="48"/><text x="333.3" y="6853">coub.com</text></g>
<g id="n_icdn05.4kpornvideos.tv" class="nd"><rect x="235.8" y="6877.3" width="195" height="48"/><text x="333.3" y="6906.3">icdn05.4kpornvideos.tv</text></g>
<g id="n_ansuko.net" class="nd"><rect x="281.3" y="6930.7" width="104.1" height="48"/><text x="333.3" y="6959.7">ansuko.net</text></g>
<g id="n_pornodrochka.org" class="nd"><rect x="255.9" y="6984" width="154.9" height="48"/><text x="333.3" y="7013">pornodrochka.org</text></g>
<g id="n_cdn.rokna.net" class="nd"><rect x="270.9" y="7037.3" width="124.8" height="48"/><text x="333.3" y="7066.3">cdn.rokna.net</text></g>
</g>
</svg>
